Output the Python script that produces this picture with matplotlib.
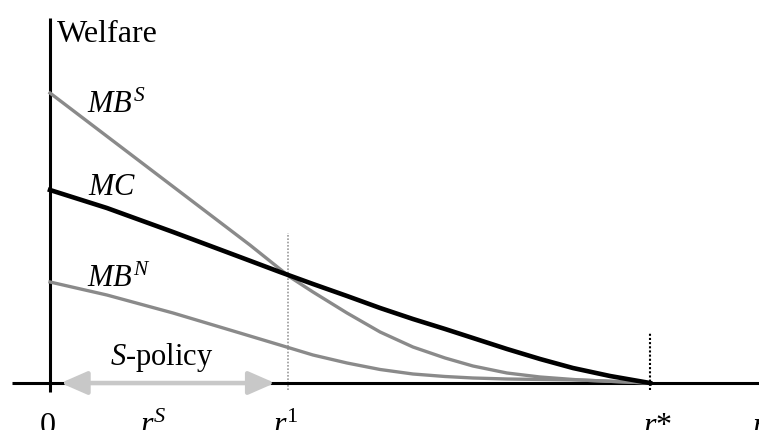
import matplotlib
matplotlib.use("Agg")
import matplotlib.pyplot as plt
from matplotlib.patches import FancyArrowPatch

plt.rcParams['mathtext.fontset'] = 'custom'
plt.rcParams['mathtext.rm'] = 'Liberation Serif'
plt.rcParams['mathtext.it'] = 'Liberation Serif:italic'
plt.rcParams['font.family'] = ['Liberation Serif', 'DejaVu Serif']

# ---- data (r in units where r^1 = 1) ----
r_mbs = [0, 0.210, 0.420, 0.630, 0.840, 1.008, 1.105, 1.248, 1.387, 1.525, 1.660, 1.777, 1.920, 2.059, 2.227, 2.521]
w_mbs = [2.90, 2.52, 2.14, 1.76, 1.38, 1.06, 0.91, 0.70, 0.51, 0.36, 0.25, 0.17, 0.10, 0.06, 0.03, 0.0]

r_mc = [0, 0.239, 0.517, 0.798, 0.966, 1.105, 1.248, 1.387, 1.525, 1.660, 1.777, 1.920, 2.059, 2.197, 2.353, 2.521]
w_mc = [1.93, 1.75, 1.51, 1.26, 1.11, 0.99, 0.87, 0.75, 0.64, 0.54, 0.45, 0.34, 0.24, 0.15, 0.07, 0.0]

r_mbn = [0, 0.239, 0.517, 0.798, 0.966, 1.105, 1.248, 1.387, 1.525, 1.660, 1.777, 1.920, 2.227, 2.521]
w_mbn = [1.01, 0.88, 0.70, 0.50, 0.38, 0.28, 0.20, 0.135, 0.09, 0.065, 0.05, 0.04, 0.03, 0.0]

r1 = 1.0
r_star = 2.521
policy_range = [0.045, 0.945]

tick_pos = [-0.042, 0.378, 0.937, 2.492, 2.950]
tick_labels = ['0', '$r^{S}$', r'$r^{\mathrm{1}}$', '$r$*', '$r$']

fig = plt.figure(figsize=(7.59, 4.30), dpi=100)
ax = fig.add_axes([0, 0, 1, 1])
ax.set_xlim(-50 / 238, 709 / 238)
ax.set_ylim(-0.47, 3.83)
ax.axis('off')

gray = '#8a8a8a'
# axes
ax.plot([0, 0], [-0.09, 3.65], color='black', lw=2.2, zorder=2, solid_capstyle='butt')
ax.plot([-0.16, 2.98], [0, 0], color='black', lw=2.2, zorder=2, solid_capstyle='butt')

# curves
ax.plot(r_mbs, w_mbs, color=gray, lw=2.4, zorder=3, solid_joinstyle='round')
ax.plot(r_mbn, w_mbn, color=gray, lw=2.4, zorder=3, solid_joinstyle='round')
ax.plot(r_mc, w_mc, color='black', lw=3.3, zorder=4, solid_joinstyle='round')

# dotted verticals
ax.plot([r1, r1], [-0.07, 1.50], color='#9a9a9a', lw=1.2, ls=(0, (1, 1)), zorder=1)
ax.plot([r_star, r_star], [-0.07, 0.51], color='black', lw=1.5, ls=(0, (1, 1)), zorder=5)

# S-policy arrow
arr = FancyArrowPatch((policy_range[0], 0), (policy_range[1], 0),
                      arrowstyle='<|-|>,head_length=16,head_width=7',
                      mutation_scale=1, color='#c8c8c8', lw=3.2,
                      shrinkA=0, shrinkB=0, zorder=6)
ax.add_patch(arr)

fs = 23
ax.text(0.03, 3.41, 'Welfare', fontsize=fs, ha='left', va='baseline')
ax.text(0.155, 2.70, '$MB^{S}$', fontsize=fs - 1, ha='left', va='baseline')
ax.text(0.16, 1.88, '$MC$', fontsize=fs - 1, ha='left', va='baseline')
ax.text(0.155, 0.96, '$MB^{N}$', fontsize=fs - 1, ha='left', va='baseline')
ax.text(0.25, 0.18, '$S$-policy', fontsize=fs - 1, ha='left', va='baseline')

for x, lab in zip(tick_pos, tick_labels):
    ax.text(x, -0.51, lab, fontsize=fs, ha='left', va='baseline')

fig.savefig('out.png', dpi=100)
